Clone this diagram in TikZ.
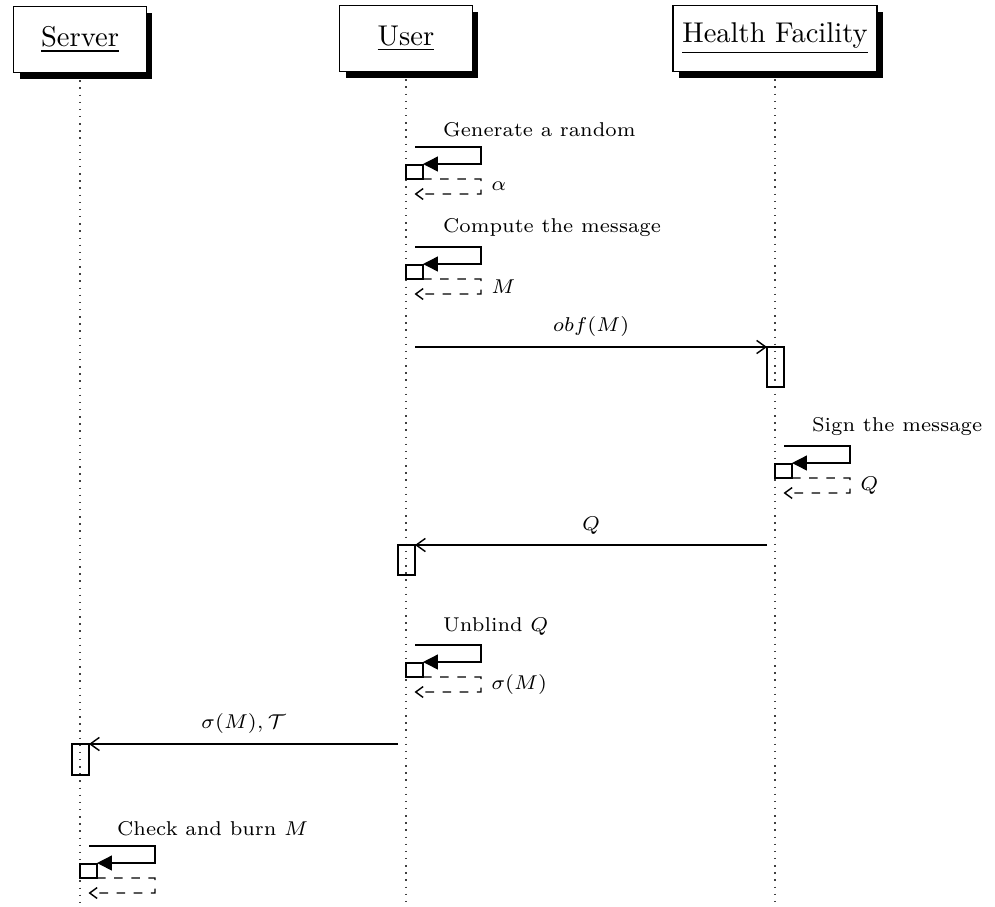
\documentclass[tikz,border=0pt]{standalone}
\usetikzlibrary{arrows.meta,shadows,backgrounds}

% self call on a lifeline: name, box left x, top-line y, call text, return label
\newcommand\selfmsg[5]{%
  \node[actbox, minimum height=4.9pt] (#1) at (#2,#3+18) {};
  \coordinate (#1-a) at (#2+9,#3);
  \coordinate (#1-b) at (#2+75,#3);
  \coordinate (#1-c) at (#2+75,#3+17);
  \coordinate (#1-d) at (#2+75,#3+32);
  \coordinate (#1-e) at (#2+75,#3+47);
  \node[lbl, anchor=south west] (#1-t) at (#2+27,#3) {#4};
  \draw[call] (#1-a) -- (#1-b) -- (#1-c) -- (#1-c -| #1.east);
  \draw[ret] (#1.south east) -- (#1-d) -- node[lbl, right] {#5} (#1-e) -- (#1-e -| #1.south);
}

\begin{document}
\begin{tikzpicture}[x=0.35pt, y=-0.35pt,
  inst/.style={draw, line width=0.5pt, fill=white, minimum width=46.5pt,
    minimum height=23.1pt, inner sep=3.33pt, font=\normalsize,
    drop shadow={opacity=1, fill=black, shadow xshift=2.1pt, shadow yshift=-2.4pt}},
  lifeline/.style={dotted, line width=0.5pt, black!75},
  actbox/.style={draw, line width=0.5pt, inner sep=0pt, outer sep=0pt,
    minimum width=5.95pt, anchor=north west},
  call/.style={line width=0.5pt, -{Triangle[length=5.2pt,width=5.2pt]}},
  ret/.style={dashed, line width=0.5pt, -{Straight Barb[length=2.6pt,width=3.8pt]}},
  msg/.style={line width=0.5pt, -{Straight Barb[length=3.2pt,width=4.6pt]}},
  lbl/.style={font=\scriptsize}]

\useasboundingbox (0,0) rectangle (995,906);
\coordinate (bottom) at (0,906);

% instances
\node[inst] (srv) at (80,39.5) {\underline{Server}};
\node[inst] (usr) at (406,38.5) {\underline{User}};
\node[inst] (hf)  at (775,38.5) {\underline{Health Facility}};

% lifelines
\begin{pgfonlayer}{background}
  \draw[lifeline] (srv.south) -- (srv.south |- bottom);
  \draw[lifeline] (usr.south) -- (usr.south |- bottom);
  \draw[lifeline] (hf.south)  -- (hf.south |- bottom);
\end{pgfonlayer}

% user prepares the message
\selfmsg{gen}{406}{147}{Generate a random}{$\alpha$}
\selfmsg{cmp}{406}{247}{Compute the message}{$M$}

% user -> health facility
\coordinate (m1s) at (415,347);
\node[actbox, minimum height=14pt] (hfa) at (767,347) {};
\draw[msg] (m1s) -- node[lbl, above] {$obf(M)$} (hfa.north west);

% health facility signs
\selfmsg{sgn}{775}{446}{Sign the message}{$Q$}

% health facility -> user
\coordinate (m2s) at (767,545);
\node[actbox, minimum height=10.5pt] (usa) at (398,545) {};
\draw[msg] (m2s) -- node[lbl, above] {$Q$} (usa.north east);

% user unblinds
\selfmsg{unb}{406}{645}{Unblind $Q$}{$\sigma(M)$}

% user -> server
\coordinate (m3s) at (398,744);
\node[actbox, minimum height=10.85pt] (sva) at (72,744) {};
\draw[msg] (m3s) -- node[lbl, above] {$\sigma(M), \mathcal{T}$} (sva.north east);

% server checks
\selfmsg{chk}{80}{846}{Check and burn $M$}{}

\end{tikzpicture}
\end{document}
